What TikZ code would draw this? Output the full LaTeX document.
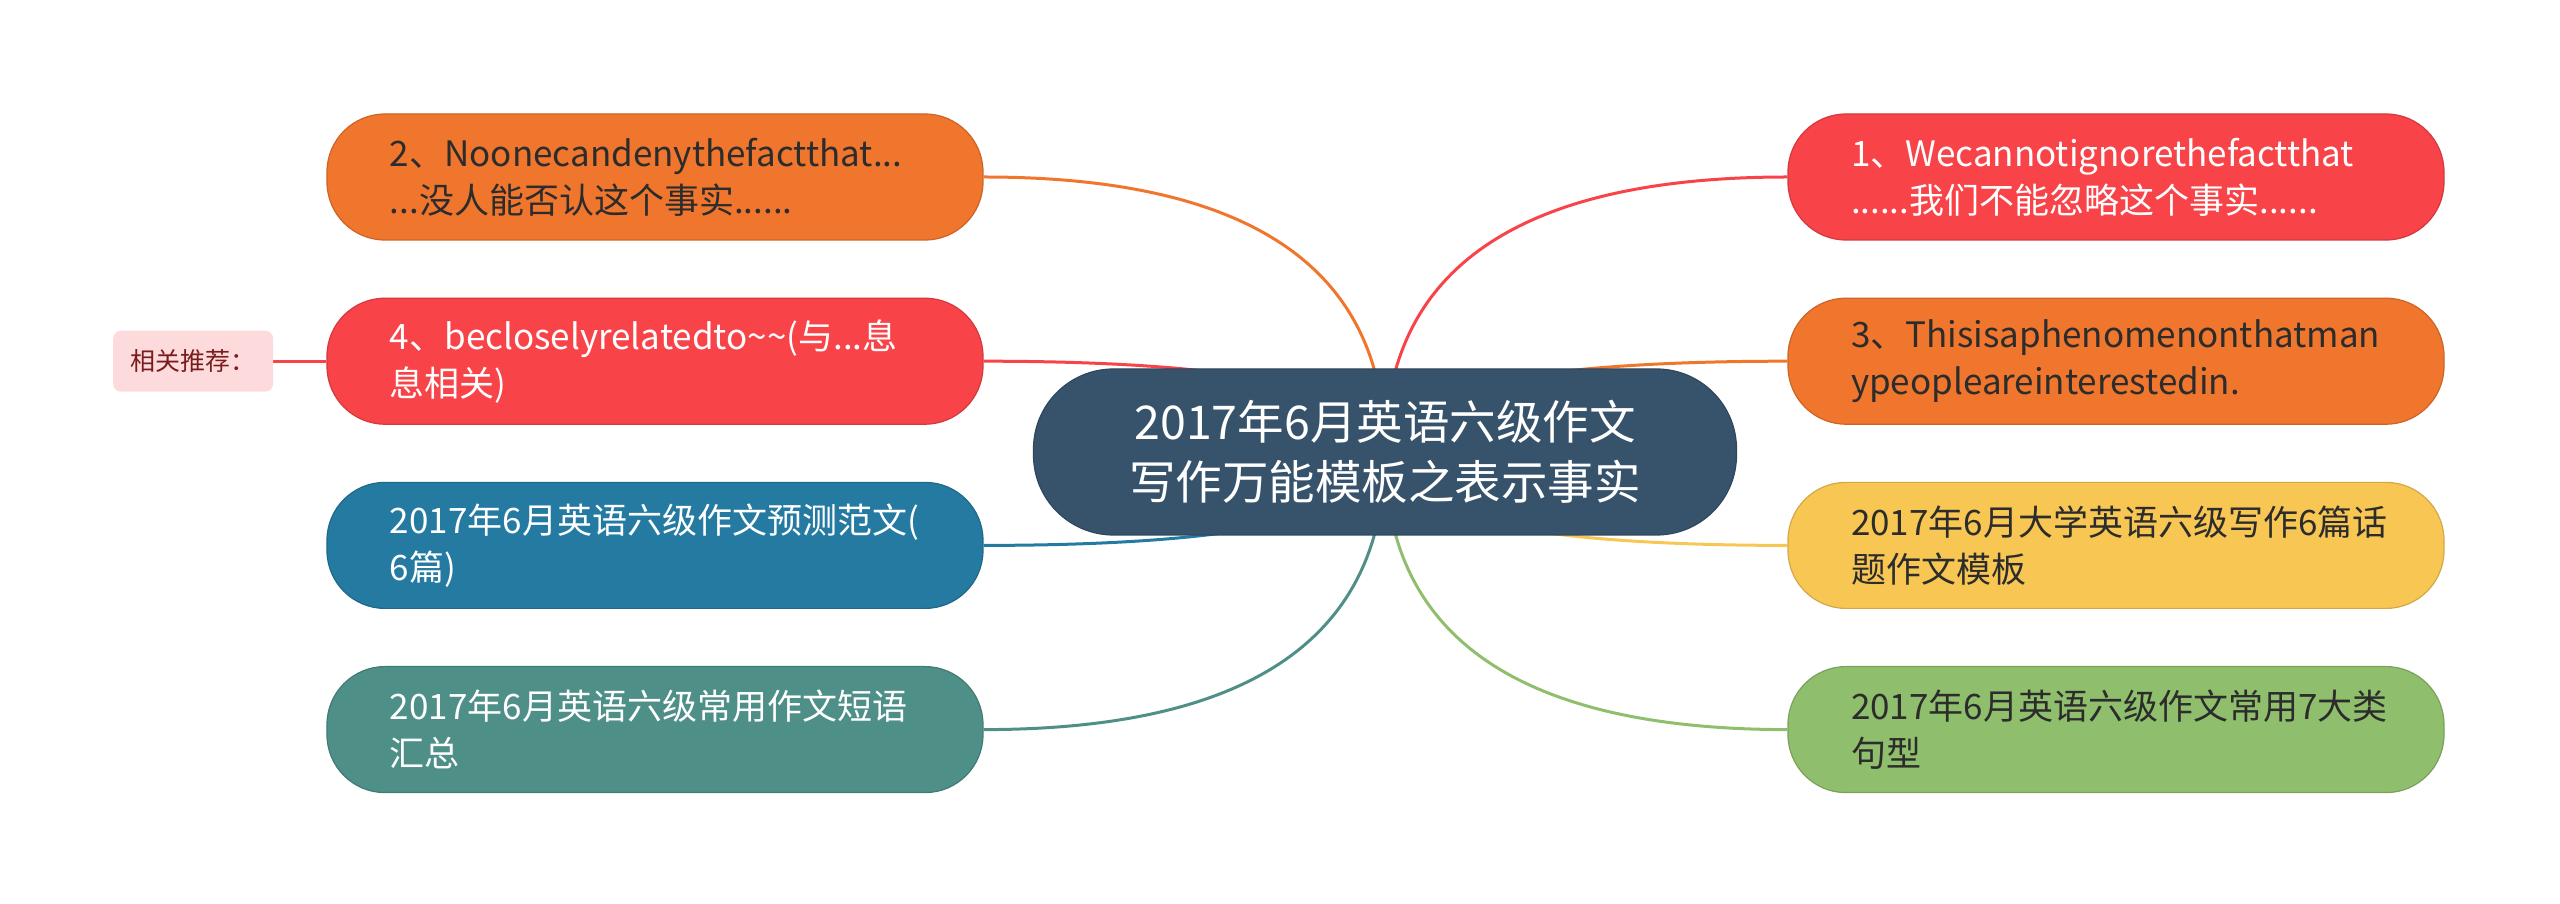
\documentclass[tikz,border=0pt]{standalone}
\usepackage{fontspec}
\setmainfont{Noto Sans CJK SC}
\definecolor{mapnavy}{RGB}{55, 83, 108}
\definecolor{mapred}{RGB}{248, 67, 73}
\definecolor{maporange}{RGB}{241, 118, 45}
\definecolor{mapyellow}{RGB}{248, 199, 83}
\definecolor{mapgreen}{RGB}{143, 190, 109}
\definecolor{mapblue}{RGB}{37, 122, 161}
\definecolor{mapteal}{RGB}{78, 143, 136}
\definecolor{mappink}{RGB}{253, 218, 220}
\definecolor{mapdark}{RGB}{44, 44, 44}
\definecolor{mapmaroon}{RGB}{122, 28, 28}
\usetikzlibrary{
  backgrounds,
  calc,
  positioning,
}
\tikzset{
  root/.style={rectangle, rounded corners=80pt, fill=mapnavy, draw=mapnavy!85!black, line width=1.2pt,
    minimum width=703pt, minimum height=166pt, text=white, align=center, font=\fontsize{46.5}{60}\selectfont},
  topic/.style={rectangle, rounded corners=58pt, fill=#1, draw=#1!85!black, line width=1.2pt,
    minimum width=656pt, minimum height=126pt, text width=530pt, inner xsep=0pt, align=left,
    font=\fontsize{35}{47}\selectfont},
  tag/.style={rectangle, rounded corners=8pt, fill=mappink, minimum width=160pt, minimum height=61pt,
    text=mapmaroon, font=\fontsize{25}{28}\selectfont},
  link/.style={line width=3pt, draw=#1,
    to path={.. controls ($(\tikztostart)!2/3!(\tikztostart |- \tikztotarget)$)
      and ($(\tikztotarget)!2/3!(\tikztostart |- \tikztotarget)$) .. (\tikztotarget)}},
}

\begin{document}
\begin{tikzpicture}[x=1pt, y=1pt, node distance=57pt and 53pt]

        \useasboundingbox (-1385,-452) rectangle (1175,452);

        \node[root]    (root)    at (0,0)    {2017年6月英语六级作文\\写作万能模板之表示事实};

        \node[topic=maporange, text=mapdark]    (l1)    at (-730,275)    {2、Noonecandenythefactthat...\\...没人能否认这个事实......};
        \node[topic=mapred, text=white]    (l2)    [below=of l1]    {4、becloselyrelatedto\textasciitilde\textasciitilde(与...息\\息相关)};
        \node[topic=mapblue, text=white]    (l3)    [below=of l2]    {2017年6月英语六级作文预测范文(\\6篇)};
        \node[topic=mapteal, text=white]    (l4)    [below=of l3]    {2017年6月英语六级常用作文短语\\汇总};

        \node[topic=mapred, text=white]    (r1)    at (731,275)    {1、Wecannotignorethefactthat\\......我们不能忽略这个事实......};
        \node[topic=maporange, text=mapdark]    (r2)    [below=of r1]    {3、Thisisaphenomenonthatman\\ypeopleareinterestedin.};
        \node[topic=mapyellow, text=mapdark]    (r3)    [below=of r2]    {2017年6月大学英语六级写作6篇话\\题作文模板};
        \node[topic=mapgreen, text=mapdark]    (r4)    [below=of r3]    {2017年6月英语六级作文常用7大类\\句型};

        \node[tag]    (tag)    [left=of l2]    {相关推荐：};

        \begin{scope}[on background layer]
            \draw[link=maporange]    (root.center) to (l1.east);
            \draw[link=mapred]    (root.center) to (l2.east);
            \draw[link=mapblue]    (root.center) to (l3.east);
            \draw[link=mapteal]    (root.center) to (l4.east);
            \draw[link=mapred]    (root.center) to (r1.west);
            \draw[link=maporange]    (root.center) to (r2.west);
            \draw[link=mapyellow]    (root.center) to (r3.west);
            \draw[link=mapgreen]    (root.center) to (r4.west);
            \draw[mapred, line width=3pt]    (tag) -- (l2);
        \end{scope}

    \end{tikzpicture}
\end{document}
